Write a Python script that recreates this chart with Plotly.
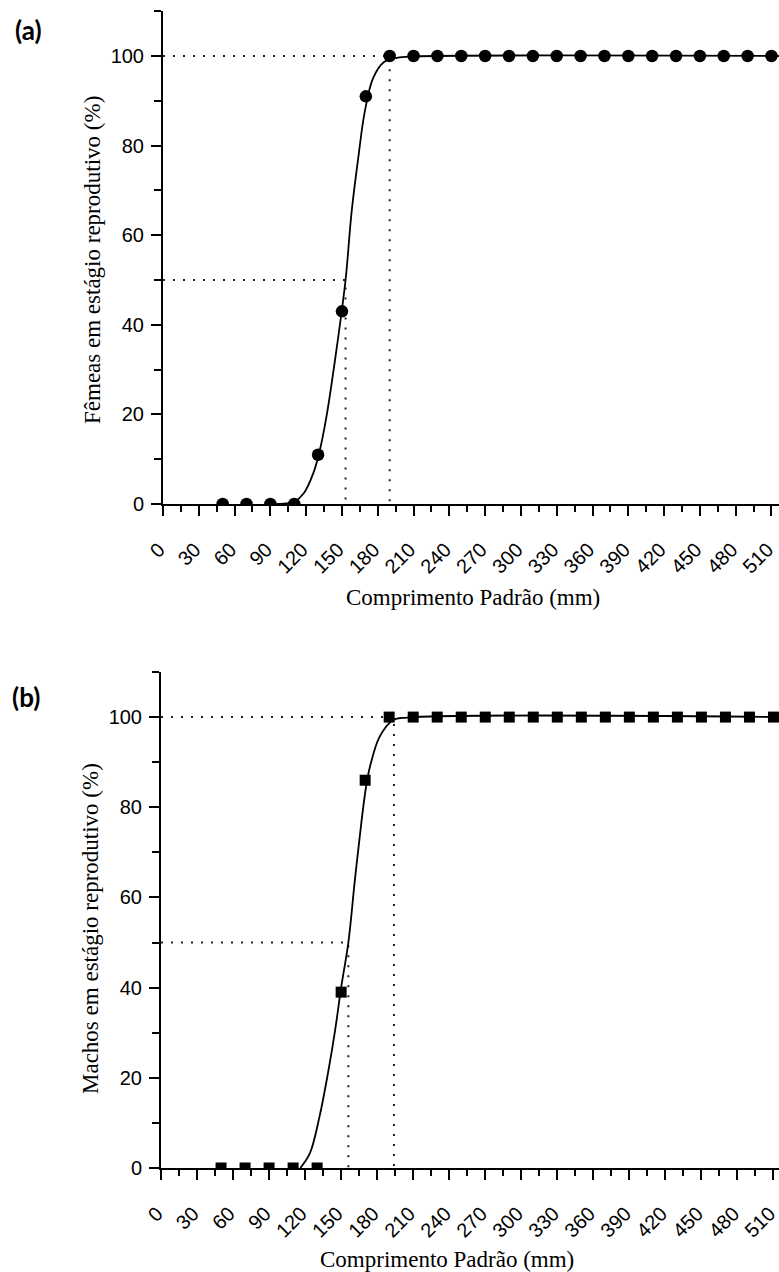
import plotly.graph_objects as go

# ---------------- data ----------------
# Panel (a) - females
len_a = [50, 70, 90, 110, 130, 150, 170, 190, 210, 230, 250, 270, 290, 310, 330,
         350, 370, 390, 410, 430, 450, 470, 490, 510]
pct_a = [0, 0, 0, 0, 11, 43, 91, 100, 100, 100, 100, 100, 100, 100, 100,
         100, 100, 100, 100, 100, 100, 100, 100, 100]
curve_len_a = [95, 105, 110, 118, 126, 131, 137, 145, 153, 158, 164, 169, 176, 185, 196, 210, 520]
curve_pct_a = [0, 0.2, 0.5, 2.4, 6.9, 11.5, 19.5, 33.7, 50, 65, 78, 87.4, 95, 98.6, 99.6, 99.9, 100]
l50_a, l100_a = 153, 190

# Panel (b) - males
len_b = [50, 70, 90, 110, 130, 150, 170, 190, 210, 230, 250, 270, 290, 310, 330,
         350, 370, 390, 410, 430, 450, 470, 490, 510]
pct_b = [0, 0, 0, 0, 0, 39, 86, 100, 100, 100, 100, 100, 100, 100, 100,
         100, 100, 100, 100, 100, 100, 100, 100, 100]
curve_len_b = [116, 124, 132, 139, 145, 150, 156, 161.5, 167, 171, 174, 182, 193, 205, 520]
curve_pct_b = [0, 3.3, 11.4, 21, 30.6, 40, 50, 64, 77, 85, 89, 95.6, 99.3, 99.9, 100]
l50_b, l100_b = 156, 194

x_ticks = list(range(0, 511, 30))
y_ticks = [0, 20, 40, 60, 80, 100]

W, H = 779, 1272
px = lambda v: v / W
py = lambda v: 1 - v / H

TICKFONT = dict(family="Liberation Sans, Arial, sans-serif", size=20, color="black")
TITLEFONT = dict(family="Liberation Serif, Times New Roman, serif", size=23, color="black")
LABELFONT = dict(family="Lato, Open Sans, sans-serif", size=26, color="black")
DOT = dict(color="#222", width=2, dash="2px,8px")

fig = go.Figure()

def add_panel(xa, ya, lens, pcts, clen, cpct, l50, l100, symbol, msize):
    # dotted reference lines
    fig.add_trace(go.Scatter(x=[0, l100, l100], y=[100, 100, 0], mode="lines",
                             line=DOT, xaxis=xa, yaxis=ya, hoverinfo="skip"))
    fig.add_trace(go.Scatter(x=[0, l50, l50], y=[50, 50, 0], mode="lines",
                             line=DOT, xaxis=xa, yaxis=ya, hoverinfo="skip"))
    # fitted curve
    fig.add_trace(go.Scatter(x=clen, y=cpct, mode="lines",
                             line=dict(color="black", width=1.8, shape="spline", smoothing=1.0),
                             xaxis=xa, yaxis=ya))
    # observed points
    fig.add_trace(go.Scatter(x=lens, y=pcts, mode="markers",
                             marker=dict(symbol=symbol, size=msize, color="black"),
                             xaxis=xa, yaxis=ya))

add_panel("x", "y", len_a, pct_a, curve_len_a, curve_pct_a, l50_a, l100_a, "circle", 12.5)
add_panel("x2", "y2", len_b, pct_b, curve_len_b, curve_pct_b, l50_b, l100_b, "square", 11)

def xaxis_cfg(domain, rng, anchor):
    return dict(domain=domain, range=rng, anchor=anchor, tickvals=x_ticks, automargin=False,
                tickangle=-45, ticks="outside", ticklen=10, tickwidth=2, tickcolor="black",
                showline=True, linecolor="black", linewidth=2, showgrid=False, zeroline=False,
                tickfont=TICKFONT, ticklabeloverflow="allow",
                ticklabelshift=-4, ticklabelstandoff=14,
                minor=dict(ticks="outside", ticklen=6, tickwidth=2, tickcolor="black",
                           dtick=15, tick0=0, showgrid=False))

def yaxis_cfg(domain, anchor):
    return dict(domain=domain, range=[0, 110], anchor=anchor, tickvals=y_ticks, automargin=False,
                ticks="outside", ticklen=10, tickwidth=2, tickcolor="black",
                showline=True, linecolor="black", linewidth=2, showgrid=False, zeroline=False,
                tickfont=TICKFONT, ticklabelstandoff=3,
                minor=dict(ticks="outside", ticklen=7, tickwidth=2, tickcolor="black",
                           dtick=10, tick0=0, showgrid=False))

fig.update_layout(
    width=W, height=H, autosize=False,
    margin=dict(l=0, r=0, t=0, b=0, pad=0, autoexpand=False),
    paper_bgcolor="white", plot_bgcolor="white",
    showlegend=False,
    xaxis=xaxis_cfg([px(163), 1], [0, 516.3], "y"),
    yaxis=yaxis_cfg([py(504), py(11.2)], "x"),
    xaxis2=xaxis_cfg([px(161), 1], [0, 514.6], "y2"),
    yaxis2=yaxis_cfg([py(1168), py(672)], "x2"),
)

ann = [
    dict(text="<b>(a)</b>", x=px(28), y=py(30), font=LABELFONT),
    dict(text="<b>(b)</b>", x=px(26), y=py(697), font=LABELFONT),
    dict(text="Comprimento Padrão (mm)", x=px(473), y=py(597), font=TITLEFONT),
    dict(text="Comprimento Padrão (mm)", x=px(447), y=py(1259), font=TITLEFONT),
    dict(text="Fêmeas em estágio reprodutivo (%)", x=px(92), y=py(260), textangle=-90, font=TITLEFONT),
    dict(text="Machos em estágio reprodutivo (%)", x=px(90), y=py(929), textangle=-90, font=TITLEFONT),
]
for a in ann:
    a.update(xref="paper", yref="paper", showarrow=False, xanchor="center", yanchor="middle")
fig.update_layout(annotations=ann)

fig.write_html("out.html")
